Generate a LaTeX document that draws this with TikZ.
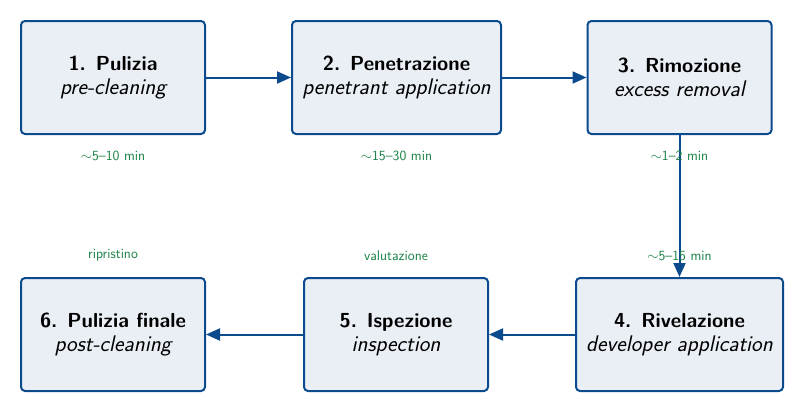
\documentclass[tikz,border=0pt]{standalone}
\usetikzlibrary{arrows.meta}
\definecolor{boxblue}{RGB}{12,74,142}
\definecolor{boxfill}{RGB}{234,239,246}
\definecolor{labgreen}{RGB}{24,128,68}
\newcommand{\steptitle}[1]{{\fontsize{20.3}{24}\selectfont\bfseries #1}}
\newcommand{\stepsub}[1]{{\fontsize{22.6}{24}\selectfont\itshape #1}}
\tikzset{
  stepbox/.style={draw=boxblue, fill=boxfill, line width=2pt, rounded corners=4pt,
    minimum width=184pt, minimum height=113pt, align=center, inner xsep=4pt,
    font=\sffamily\fontsize{20.3}{24}\selectfont},
  flow/.style={draw=boxblue, line width=2pt, -{Triangle[length=14pt,width=12pt]}},
  timelab/.style={text=labgreen, font=\sffamily\fontsize{14}{16}\selectfont, anchor=base, inner sep=0pt}
}
\begin{document}
\begin{tikzpicture}[x=1pt,y=-1pt]
\useasboundingbox (0,0) rectangle (804,413);
\node[stepbox] (s1) at (113,77.5) {\steptitle{1. Pulizia}\\\stepsub{pre-cleaning}};
\node[stepbox, minimum width=209pt] (s2) at (396.5,77.5) {\steptitle{2. Penetrazione}\\\stepsub{penetrant application}};
\node[stepbox] (s3) at (679.5,77.5) {\steptitle{3. Rimozione}\\\stepsub{excess removal}};
\node[stepbox, minimum width=207pt] (s4) at (679.5,334.5) {\steptitle{4. Rivelazione}\\\stepsub{developer application}};
\node[stepbox] (s5) at (396,334.5) {\steptitle{5. Ispezione}\\\stepsub{inspection}};
\node[stepbox] (s6) at (113,334.5) {\steptitle{6. Pulizia finale}\\\stepsub{post-cleaning}};
\draw[flow] (s1) -- (s2);
\draw[flow] (s2) -- (s3);
\draw[flow] (s3) -- (s4);
\draw[flow] (s4) -- (s5);
\draw[flow] (s5) -- (s6);
\node[timelab] (t1) at (113,160) {$\sim$5--10 min};
\node[timelab] (t2) at (396.5,160) {$\sim$15--30 min};
\node[timelab] (t3) at (679.5,160) {$\sim$1--2 min};
\node[timelab] (t4) at (679.5,260.5) {$\sim$5--15 min};
\node[timelab] (t5) at (396,260.5) {valutazione};
\node[timelab] (t6) at (113,258.3) {ripristino};
\end{tikzpicture}
\end{document}
